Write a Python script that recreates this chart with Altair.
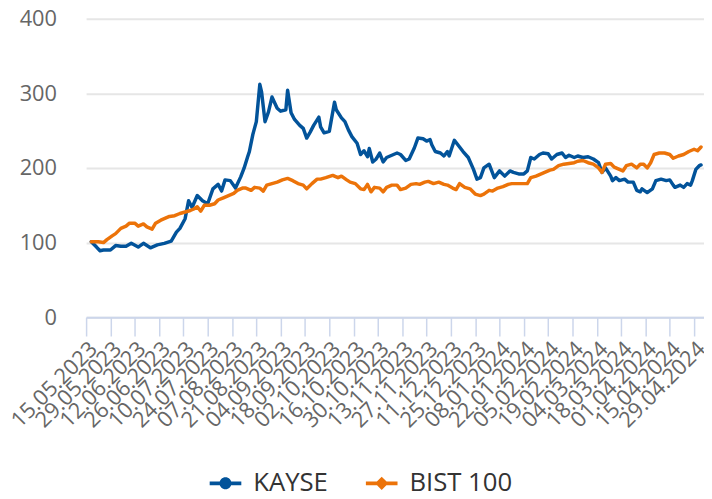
import altair as alt
import pandas as pd

START = "2023-05-15"

# KAYSE: days since 15.05.2023, indexed value
kayse_days = [3, 6, 8, 10, 14, 17, 20, 23, 26, 30, 33, 37, 41, 45, 49, 52, 54, 57, 59, 61,
              64, 67, 70, 73, 76, 78, 80, 83, 86, 89, 91, 93, 94, 96, 98, 100, 101, 103, 105, 107,
              110, 112, 115, 116, 118, 120, 123, 125, 127, 129, 131, 134, 135, 137, 140, 143, 144, 147, 149, 151,
              153, 156, 158, 160, 162, 163, 165, 167, 169, 171, 173, 176, 179, 181, 184, 186, 189, 191, 194, 196,
              198, 199, 201, 204, 206, 208, 209, 212, 214, 217, 220, 223, 225, 227, 229, 232, 235, 238, 241, 244,
              246, 249, 252, 254, 256, 258, 261, 263, 266, 268, 271, 274, 276, 278, 281, 283, 286, 289, 292, 295,
              297, 299, 302, 303, 305, 307, 310, 312, 315, 317, 319, 320, 323, 326, 328, 331, 334, 336, 338, 339,
              342, 344, 346, 348, 349, 351, 353, 354]
kayse_vals = [101, 94, 89, 90, 90, 96, 95, 95, 99, 94, 99, 93, 97, 99, 102, 114, 119, 132, 156, 147,
              163, 156, 152, 172, 178, 169, 184, 183, 173, 188, 200, 215, 222, 245, 262, 312, 302, 262, 275, 295,
              280, 276, 278, 304, 274, 265, 257, 253, 240, 248, 257, 268, 255, 247, 249, 288, 278, 267, 262, 251,
              242, 233, 218, 223, 215, 226, 208, 212, 220, 208, 214, 217, 220, 218, 210, 212, 227, 240, 239, 236,
              238, 231, 222, 220, 216, 222, 216, 237, 231, 222, 214, 198, 185, 187, 200, 205, 187, 196, 189, 196,
              194, 192, 192, 196, 214, 212, 218, 220, 219, 212, 218, 220, 214, 217, 214, 216, 214, 215, 212, 207,
              194, 200, 189, 183, 187, 183, 185, 181, 181, 170, 168, 172, 167, 172, 183, 185, 183, 184, 177, 174,
              177, 174, 179, 177, 183, 198, 203, 204]

# BIST 100: days since 15.05.2023, indexed value
bist_days = [3, 7, 10, 12, 15, 17, 20, 23, 25, 28, 30, 33, 35, 38, 40, 43, 45, 48, 51, 54,
             57, 60, 62, 64, 66, 68, 71, 74, 76, 79, 82, 85, 87, 90, 92, 95, 97, 100, 102, 104,
             107, 110, 113, 116, 119, 122, 125, 127, 130, 133, 135, 138, 142, 145, 147, 150, 152, 155, 158, 160,
             162, 164, 166, 169, 171, 173, 176, 179, 181, 184, 187, 190, 192, 195, 197, 200, 203, 206, 208, 211,
             213, 215, 218, 221, 224, 227, 229, 232, 234, 237, 240, 243, 245, 248, 251, 254, 256, 259, 262, 264,
             267, 269, 272, 275, 278, 281, 283, 286, 289, 292, 295, 297, 299, 302, 304, 307, 309, 311, 314, 317,
             319, 321, 323, 325, 327, 330, 333, 336, 338, 341, 344, 347, 350, 352, 354]
bist_vals = [101, 101, 100, 104, 109, 112, 119, 122, 126, 126, 122, 125, 121, 118, 126, 130, 132, 135, 136, 139,
             141, 143, 145, 148, 142, 150, 150, 152, 157, 160, 163, 166, 170, 173, 173, 170, 174, 173, 169, 177,
             179, 181, 184, 186, 183, 179, 177, 172, 179, 185, 185, 187, 190, 187, 189, 184, 181, 179, 172, 171,
             178, 168, 174, 173, 168, 174, 177, 177, 171, 173, 178, 179, 178, 181, 182, 179, 181, 178, 177, 173,
             171, 179, 174, 172, 165, 163, 165, 170, 169, 173, 175, 178, 179, 179, 179, 179, 187, 189, 192, 194,
             197, 198, 203, 205, 206, 207, 209, 210, 207, 205, 200, 194, 205, 206, 201, 198, 196, 203, 205, 200,
             205, 205, 200, 207, 218, 220, 220, 218, 213, 216, 218, 222, 225, 223, 228]

series_names = ["KAYSE", "BIST 100"]
series_colors = ["#02539a", "#ec7309"]

tick_dates = ["15.05.2023", "29.05.2023", "12.06.2023", "26.06.2023", "10.07.2023", "24.07.2023",
              "07.08.2023", "21.08.2023", "04.09.2023", "18.09.2023", "02.10.2023", "16.10.2023",
              "30.10.2023", "13.11.2023", "27.11.2023", "11.12.2023", "25.12.2023", "08.01.2024",
              "22.01.2024", "05.02.2024", "19.02.2024", "04.03.2024", "18.03.2024", "01.04.2024",
              "15.04.2024", "29.04.2024"]
y_ticks = [0, 100, 200, 300, 400]

start = pd.Timestamp(START)


def to_iso(days):
    return [(start + pd.Timedelta(days=int(d))).strftime("%Y-%m-%dT00:00:00") for d in days]


df = pd.concat([
    pd.DataFrame({"date": to_iso(kayse_days), "value": kayse_vals, "series": series_names[0]}),
    pd.DataFrame({"date": to_iso(bist_days), "value": bist_vals, "series": series_names[1]}),
], ignore_index=True)


def dt(s):
    d, m, y = s.split(".")
    return alt.DateTime(year=int(y), month=int(m), date=int(d))


x_values = [dt(s) for s in tick_dates]
x_domain = [alt.DateTime(year=2023, month=5, date=15),
            alt.DateTime(year=2024, month=5, date=4, hours=17)]

FONT = "Open Sans"

circle_line = ("M-1,-0.12H1V0.12H-1Z "
               "M0.38,0A0.38,0.38,0,1,1,-0.38,0A0.38,0.38,0,1,1,0.38,0Z")
diamond_line = ("M-1,-0.12H1V0.12H-1Z "
                "M0,-0.42L0.42,0L0,0.42L-0.42,0Z")

x_enc = alt.X(
    "date:T",
    scale=alt.Scale(domain=x_domain),
    axis=alt.Axis(
        values=x_values, format="%d.%m.%Y", labelAngle=-45, labelFontSize=22,
        labelColor="#666666", labelFont=FONT, grid=False, domainColor="#ccd6eb",
        domainWidth=2, tickColor="#ccd6eb", tickWidth=1.5, tickSize=19,
        labelOverlap=False, labelFlush=False, labelBound=False, title=None,
        labelPadding=2,
    ),
)
y_enc = alt.Y(
    "value:Q",
    scale=alt.Scale(domain=[0, 400], nice=False),
    axis=alt.Axis(
        values=y_ticks, labelFontSize=22, labelColor="#666666", labelFont=FONT,
        domain=False, ticks=False, gridColor="#e6e6e6", gridWidth=2,
        labelPadding=30, title=None,
    ),
)

base = alt.Chart(df)

line_layers = [
    base.transform_filter(alt.datum.series == name)
    .mark_line(strokeWidth=3.5, strokeJoin="round", strokeCap="round", color=col)
    .encode(x=x_enc, y=y_enc)
    for name, col in zip(series_names, series_colors)
]

legend_def = alt.Legend(title=None, orient="none", direction="horizontal",
                        legendX=125, legendY=454, symbolSize=1024,
                        symbolOpacity=1, symbolStrokeWidth=0,
                        labelFontSize=26, labelFont=FONT, labelColor="#333333",
                        labelOffset=12, columnPadding=38, padding=0)

points = base.mark_point(filled=True, opacity=0).encode(
    x=x_enc,
    y=y_enc,
    color=alt.Color("series:N", scale=alt.Scale(domain=series_names, range=series_colors),
                    legend=legend_def),
    shape=alt.Shape("series:N",
                    scale=alt.Scale(domain=series_names, range=[circle_line, diamond_line]),
                    legend=legend_def),
)

chart = alt.layer(*line_layers, points).properties(
    width=625, height=302,
    autosize=alt.AutoSizeParams(type="none"),
    padding={"left": 79, "top": 8, "right": 0, "bottom": 173},
).configure(font=FONT).configure_view(strokeWidth=0, stroke="transparent")

chart.save("out.html", embed_options={"renderer": "svg", "actions": False})
